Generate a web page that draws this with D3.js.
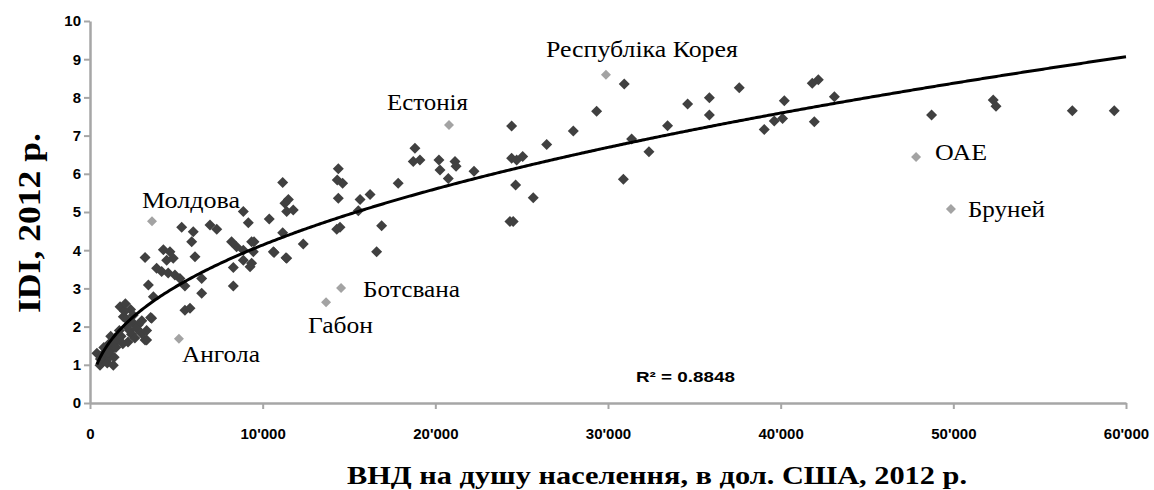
<!DOCTYPE html>
<html>
<head>
<meta charset="utf-8">
<script src="https://cdn.jsdelivr.net/npm/d3@7"></script>
<style>
  html, body { margin: 0; padding: 0; background: #fff; }
  svg { display: block; }
</style>
</head>
<body>
<svg id="chart" width="1154" height="490"></svg>
<script>
// ---- DATA ----
// Countries (dark markers): GNI per capita, USD 2012
const gni = [
  400, 580, 700, 770, 900, 1000, 1160, 1350, 1250, 1100, 1400, 1500, 1600, 1800, 1700, 1930, 1740, 2000, 2100, 2120,
  2300, 2510, 2400, 2600, 2800, 2990, 3190, 2200, 1900, 1450, 1300, 2700, 3000, 2500, 600, 800, 1050, 1200, 2050, 2350,
  3280, 3280, 3570,
  3190, 3380, 3510, 3670, 3860, 4150, 4250, 4440, 4530, 4630, 4820, 4920, 5210, 5310, 5500, 5500, 5790, 5890, 5980, 6080,
  6470, 6470, 6950, 7340, 8200, 8300, 8300, 8490, 8880, 8880, 8880, 9170, 9360, 9270, 9460, 9360, 10380, 9500, 10620, 11390,
  11160, 11490, 11290, 11390, 11770, 11160, 10660, 11350, 12350, 14380, 14320, 14630, 14380, 14290, 14480, 15640, 16220,
  15540, 16890, 16600, 17850, 18820, 18720, 19110,
  20210, 20270, 20750, 21140, 21200, 22240, 24420, 24420, 24710, 25060, 24650, 25670, 24320, 24510, 26450, 27990, 29340,
  30940, 31370, 32370, 30890, 33450, 34610, 35870, 35870, 37600, 39050, 39630, 40110, 40210, 41950, 41830, 42180, 43110,
  48740, 52310, 52470, 56890, 59320
];
// ICT Development Index, 2012
const idi = [
  1.30, 0.99, 1.25, 1.13, 1.35, 1.05, 1.21, 0.99, 1.40, 1.55, 1.20, 1.45, 1.65, 1.75, 1.90, 2.26, 2.52, 2.40, 2.20, 2.00,
  1.90, 2.09, 1.80, 1.70, 2.05, 1.82, 1.65, 1.60, 1.55, 1.70, 1.60, 1.95, 2.15, 2.30, 1.15, 1.45, 1.30, 1.75, 2.60, 2.45,
  1.90, 1.65, 2.22,
  3.81, 3.09, 2.24, 2.78, 3.53, 3.44, 4.01, 3.74, 3.40, 3.96, 3.79, 3.35, 3.26, 4.60, 3.06, 2.43, 2.48, 4.22, 4.48, 3.83,
  2.87, 3.26, 4.66, 4.55, 4.22, 3.55, 3.06, 4.09, 4.00, 3.74, 5.01, 4.72, 4.22, 3.57, 3.96, 3.66, 4.82, 4.22, 3.96, 3.79,
  5.77, 5.33, 5.23, 5.01, 5.05, 4.46, 3.94, 3.80, 4.16, 6.13, 5.84, 5.75, 5.36, 4.55, 4.60, 5.33, 5.46,
  5.03, 4.64, 3.96, 5.75, 6.67, 6.32, 6.36,
  6.36, 6.10, 5.88, 6.32, 6.20, 6.07, 7.25, 6.41, 6.36, 6.45, 5.71, 5.37, 4.75, 4.75, 6.77, 7.12, 7.64,
  8.35, 6.91, 6.58, 5.86, 7.26, 7.83, 7.99, 7.54, 8.25, 7.16, 7.38, 7.45, 7.91, 7.36, 8.37, 8.46, 8.02,
  7.54, 7.93, 7.77, 7.65, 7.65
];
// Highlighted countries
const hlNames = ["Молдова", "Ангола", "Габон", "Ботсвана", "Естонія", "Республіка Корея", "ОАЕ", "Бруней"];
const hlGni   = [3590, 5150, 13670, 14540, 20790, 29880, 47840, 49860];
const hlIdi   = [4.76, 1.68, 2.64, 3.01, 7.28, 8.59, 6.44, 5.08];
// Power trendline y = a * x^b
const trendA = 0.0732;
const trendB = 0.438;
const rSquared = "0.8848";
const xTicks = [0, 10000, 20000, 30000, 40000, 50000, 60000];
const yTicks = [0, 1, 2, 3, 4, 5, 6, 7, 8, 9, 10];
const xTitle = "ВНД на душу населення, в дол. США, 2012 р.";
const yTitle = "IDI, 2012 р.";

// ---- DRAWING ----
const svg = d3.select("#chart");
svg.append("rect").attr("width", 1154).attr("height", 490).attr("fill", "#fff");

const x = d3.scaleLinear().domain([0, 60000]).range([90, 1126]);
const y = d3.scaleLinear().domain([0, 10]).range([403, 21]);

const loc = d3.formatLocale({decimal: ".", thousands: "'", grouping: [3], currency: ["", ""]});
const fmt = loc.format(",");

const axisColor = "#a6a6a6";
const tickFont = "'Liberation Sans Narrow','Liberation Sans',Arial,sans-serif";

const gx = svg.append("g").attr("transform", `translate(0,${y(0)})`)
  .call(d3.axisBottom(x).tickValues(xTicks).tickFormat(fmt).tickSize(6).tickSizeOuter(0).tickPadding(19));
const gy = svg.append("g").attr("transform", `translate(${x(0)},0)`)
  .call(d3.axisLeft(y).tickValues(yTicks).tickFormat(d3.format("d")).tickSize(6).tickSizeOuter(0).tickPadding(3));

[gx, gy].forEach(g => {
  g.select(".domain").attr("stroke", axisColor).attr("stroke-width", 2.5);
  g.selectAll(".tick line").attr("stroke", axisColor).attr("stroke-width", 2);
  g.selectAll(".tick text").attr("fill", "#000").attr("font-family", tickFont)
    .attr("font-weight", "bold").attr("font-size", 15);
});

// Diamond marker
const diamond = s => `M0,${-s}L${s},0L0,${s}L${-s},0Z`;

const pts = gni.map((g, i) => ({g, v: idi[i]}));
svg.append("g").selectAll("path").data(pts).join("path")
  .attr("d", diamond(5.5))
  .attr("transform", d => `translate(${x(d.g)},${y(d.v)})`)
  .attr("fill", "#404040");

const hl = hlNames.map((n, i) => ({n, g: hlGni[i], v: hlIdi[i]}));
svg.append("g").selectAll("path").data(hl).join("path")
  .attr("d", diamond(5))
  .attr("transform", d => `translate(${x(d.g)},${y(d.v)})`)
  .attr("fill", "#a3a3a3");

// Trendline
const tx = d3.range(400, 60001, 100);
svg.append("path")
  .datum(tx)
  .attr("d", d3.line().x(d => x(d)).y(d => y(trendA * Math.pow(d, trendB))).curve(d3.curveLinear))
  .attr("fill", "none").attr("stroke", "#000").attr("stroke-width", 3);

// Labels for highlighted countries (offsets in px)
const labelPos = {
  "Молдова": [-10, -13, 98],
  "Ангола": [3, 23, 78],
  "Габон": [-18, 31, 65],
  "Ботсвана": [22, 9, 97],
  "Естонія": [-62, -15, 81],
  "Республіка Корея": [-60, -18, 192],
  "ОАЕ": [19, 3, 52],
  "Бруней": [17, 8, 77]
};
svg.append("g").selectAll("text").data(hl).join("text")
  .attr("x", d => x(d.g) + labelPos[d.n][0])
  .attr("y", d => y(d.v) + labelPos[d.n][1])
  .attr("textLength", d => labelPos[d.n][2])
  .attr("lengthAdjust", "spacingAndGlyphs")
  .attr("font-family", "'Liberation Serif','Times New Roman',serif")
  .attr("font-size", 24)
  .attr("fill", "#000")
  .text(d => d.n);

// R² label
svg.append("text")
  .attr("x", 636).attr("y", 382)
  .attr("font-family", tickFont).attr("font-weight", "bold").attr("font-size", 14)
  .attr("textLength", 99).attr("lengthAdjust", "spacingAndGlyphs")
  .text("R² = " + rSquared);

// Axis titles
svg.append("text")
  .attr("x", 347).attr("y", 484)
  .attr("font-family", "'Liberation Serif','Times New Roman',serif")
  .attr("font-weight", "bold").attr("font-size", 26)
  .attr("textLength", 620).attr("lengthAdjust", "spacingAndGlyphs")
  .text(xTitle);

svg.append("text")
  .attr("transform", "translate(40,313) rotate(-90)")
  .attr("x", 0).attr("y", 0)
  .attr("font-family", "'Liberation Serif','Times New Roman',serif")
  .attr("font-weight", "bold").attr("font-size", 32)
  .attr("textLength", 180).attr("lengthAdjust", "spacingAndGlyphs")
  .text(yTitle);
</script>
</body>
</html>
